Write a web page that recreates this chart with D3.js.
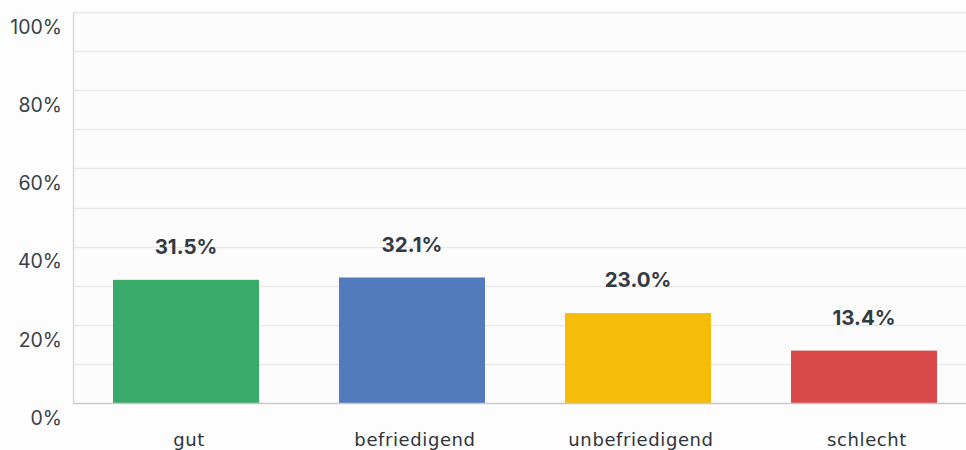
<!DOCTYPE html>
<html><head><meta charset="utf-8">
<script src="https://cdn.jsdelivr.net/npm/d3@7"></script>
<style>
html,body{margin:0;padding:0;background:#fdfdfd;}
svg{display:block;}
</style></head>
<body><svg id="chart" width="966" height="450"></svg>
<script>
const categories = ["gut", "befriedigend", "unbefriedigend", "schlecht"];
const values = [31.5, 32.1, 23.0, 13.4];
const colors = ["#3aaa6a", "#527bbd", "#f5bd0a", "#da4949"];
const yTicks = [0, 20, 40, 60, 80, 100];
const gridTicks = [10, 20, 30, 40, 50, 60, 70, 80, 90, 100];

(function () {
const svg = d3.select("#chart");
const W = 966, H = 450;
const mLeft = 73, mRight = 977, mTop = 12, mBottom = 403;

const x = d3.scaleBand().domain(categories).range([mLeft, mRight])
  .paddingInner(0.354).paddingOuter(0.177);
const y = d3.scaleLinear().domain([0, 100]).range([mBottom, mTop]);

svg.append("rect").attr("x", mLeft).attr("y", mTop).attr("width", W - mLeft).attr("height", mBottom - mTop).attr("fill", "#fcfcfc");

// gridlines
svg.append("g").selectAll("line").data(gridTicks).join("line")
  .attr("x1", mLeft).attr("x2", W)
  .attr("y1", d => Math.round(y(d)) + 0.5).attr("y2", d => Math.round(y(d)) + 0.5)
  .attr("stroke", "#e9e9e9").attr("stroke-width", 1.5);

// left axis line
svg.append("line").attr("x1", mLeft + 0.5).attr("x2", mLeft + 0.5).attr("y1", mTop).attr("y2", mBottom)
  .attr("stroke", "#d9d9d9").attr("stroke-width", 1.5);

// bars
svg.append("g").selectAll("rect").data(values).join("rect")
  .attr("x", (d, i) => x(categories[i]))
  .attr("width", x.bandwidth())
  .attr("y", d => y(d))
  .attr("height", d => y(0) - y(d))
  .attr("fill", (d, i) => colors[i]);

// baseline
svg.append("line").attr("x1", mLeft).attr("x2", W).attr("y1", mBottom + 0.5).attr("y2", mBottom + 0.5)
  .attr("stroke", "#c8c8c8").attr("stroke-width", 1.5);

// y axis labels
const yAxis = d3.axisLeft(y).tickValues(yTicks).tickFormat(d => d + "%").tickSize(0).tickPadding(11);
const ga = svg.append("g").attr("transform", `translate(${mLeft},15)`).call(yAxis);
ga.select(".domain").remove();
ga.selectAll("text").attr("font-family", "Inter, 'Noto Sans', sans-serif").attr("font-size", 19.5)
  .attr("fill", "#3a3f47");

// value labels
svg.append("g").selectAll("text").data(values).join("text")
  .attr("x", (d, i) => x(categories[i]) + x.bandwidth() / 2)
  .attr("y", d => y(d) - 33)
  .attr("dy", "0.35em")
  .attr("text-anchor", "middle")
  .attr("font-family", "Inter, 'Noto Sans', sans-serif").attr("font-weight", "bold").attr("font-size", 20.5)
  .attr("fill", "#333a42")
  .text(d => d.toFixed(1) + "%");

// category labels
const xAxis = d3.axisBottom(x).tickSize(0).tickPadding(30);
const gx = svg.append("g").attr("transform", `translate(3,${mBottom})`).call(xAxis);
gx.select(".domain").remove();
gx.selectAll("text").attr("font-family", "'DejaVu Sans', sans-serif").attr("font-size", 18)
  .attr("letter-spacing", "0.6px")
  .attr("fill", "#2f343b");
})();
</script></body></html>
